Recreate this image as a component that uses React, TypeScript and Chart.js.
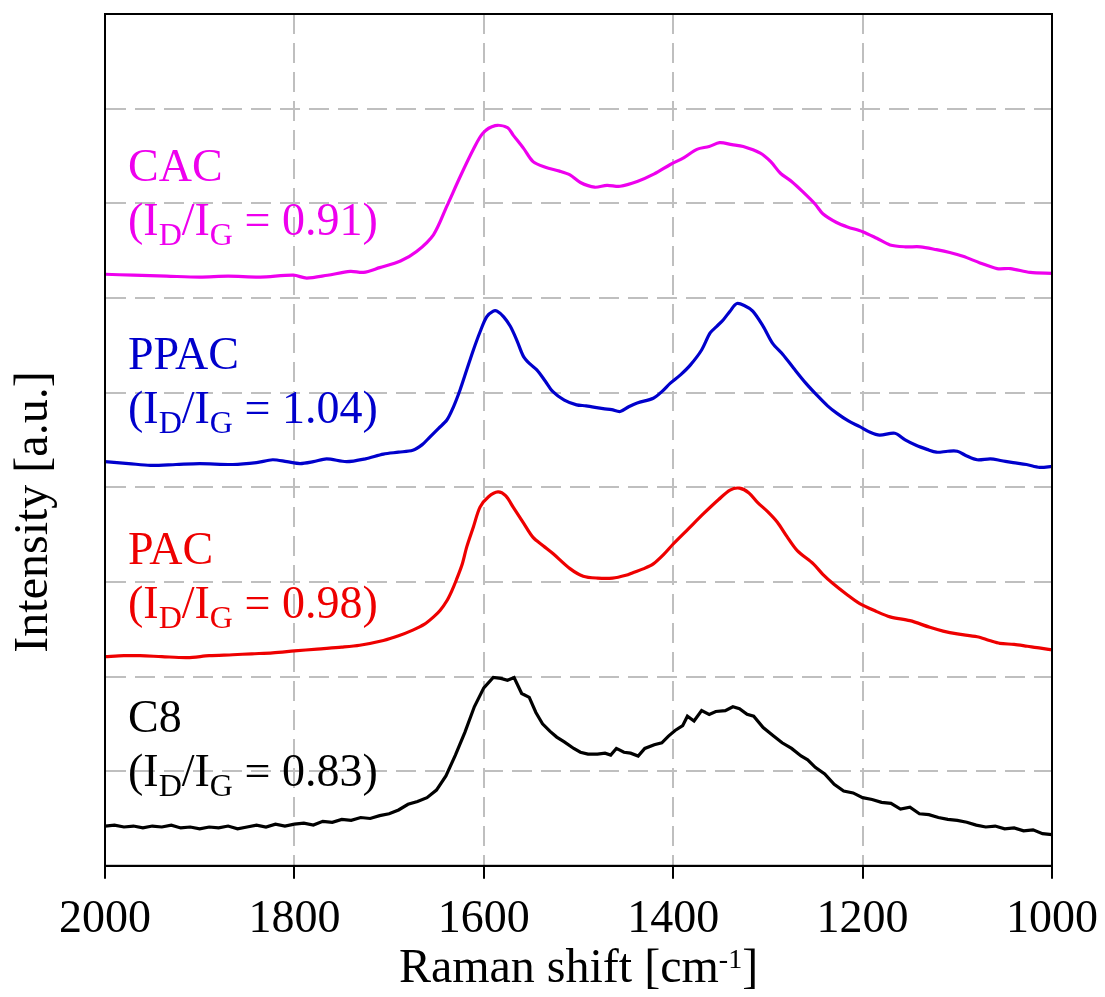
import React, { useEffect, useRef } from "react";
import { Chart, registerables } from "chart.js";

Chart.register(...registerables);

const FONT = "'Liberation Serif', 'Times New Roman', serif";

// Axis settings
const xTicks = [2000, 1800, 1600, 1400, 1200, 1000];
const xTitleMain = "Raman shift [cm";
const xTitleSup = "-1";
const xTitleEnd = "]";
const yTitle = "Intensity [a.u.]";

// Series metadata (bottom to top)
const seriesNames = ["C8", "PAC", "PPAC", "CAC"];
const ratioLabels = ["0.83", "0.98", "1.04", "0.91"];
const seriesColors = ["#000000", "#EE0000", "#0000CC", "#EE00EE"];

// CAC (magenta)
const cacX = [2000, 1970, 1935, 1900, 1870, 1836, 1801, 1787, 1765, 1741, 1727, 1710, 1688, 1671, 1653, 1639, 1625, 1611, 1601, 1588, 1575, 1569, 1558, 1548, 1535, 1520, 1509, 1498, 1483, 1470, 1456, 1438, 1420, 1403, 1389, 1375, 1362, 1351, 1338, 1326, 1308, 1297, 1287, 1275, 1263, 1250, 1242, 1228, 1216, 1200, 1185, 1171, 1155, 1139, 1122, 1108, 1094, 1076, 1058, 1044, 1023, 1000];
const cacY = [6.25, 6.24, 6.23, 6.22, 6.23, 6.22, 6.24, 6.21, 6.24, 6.28, 6.27, 6.32, 6.39, 6.49, 6.67, 6.97, 7.28, 7.57, 7.74, 7.82, 7.80, 7.72, 7.58, 7.44, 7.38, 7.34, 7.30, 7.22, 7.17, 7.19, 7.18, 7.23, 7.31, 7.41, 7.48, 7.57, 7.60, 7.64, 7.62, 7.60, 7.53, 7.44, 7.32, 7.23, 7.12, 6.99, 6.89, 6.80, 6.75, 6.70, 6.63, 6.56, 6.54, 6.54, 6.51, 6.48, 6.44, 6.37, 6.31, 6.31, 6.27, 6.26];

// PPAC (blue)
const ppacX = [2000, 1975, 1952, 1925, 1900, 1865, 1840, 1823, 1808, 1794, 1780, 1766, 1745, 1725, 1706, 1690, 1675, 1665, 1657, 1648, 1639, 1632, 1625, 1618, 1611, 1604, 1597, 1590, 1586, 1579, 1572, 1565, 1558, 1551, 1544, 1535, 1527, 1515, 1502, 1492, 1474, 1465, 1456, 1447, 1438, 1421, 1412, 1403, 1392, 1382, 1370, 1361, 1354, 1347, 1340, 1333, 1325, 1316, 1305, 1295, 1284, 1273, 1260, 1248, 1237, 1227, 1215, 1203, 1192, 1182, 1166, 1155, 1143, 1132, 1122, 1110, 1100, 1090, 1079, 1065, 1053, 1041, 1027, 1013, 1000];
const ppacY = [4.27, 4.25, 4.23, 4.24, 4.25, 4.24, 4.26, 4.29, 4.27, 4.25, 4.27, 4.30, 4.27, 4.30, 4.35, 4.37, 4.39, 4.45, 4.53, 4.62, 4.71, 4.85, 5.03, 5.24, 5.45, 5.64, 5.80, 5.86, 5.86, 5.80, 5.70, 5.55, 5.38, 5.30, 5.24, 5.12, 5.01, 4.92, 4.87, 4.86, 4.83, 4.82, 4.80, 4.85, 4.89, 4.94, 5.01, 5.10, 5.19, 5.29, 5.45, 5.63, 5.70, 5.77, 5.86, 5.94, 5.92, 5.86, 5.70, 5.52, 5.40, 5.26, 5.10, 4.97, 4.86, 4.78, 4.70, 4.64, 4.58, 4.55, 4.57, 4.50, 4.44, 4.40, 4.37, 4.38, 4.38, 4.33, 4.29, 4.30, 4.28, 4.26, 4.24, 4.21, 4.22];

// PAC (red)
const pacX = [2000, 1980, 1963, 1940, 1913, 1890, 1865, 1845, 1823, 1800, 1776, 1750, 1731, 1706, 1690, 1675, 1663, 1653, 1646, 1639, 1634, 1629, 1623, 1618, 1611, 1604, 1595, 1585, 1577, 1569, 1558, 1548, 1537, 1527, 1509, 1495, 1480, 1464, 1450, 1442, 1431, 1421, 1410, 1400, 1384, 1368, 1352, 1340, 1330, 1320, 1311, 1300, 1290, 1280, 1269, 1252, 1242, 1231, 1217, 1203, 1186, 1171, 1150, 1129, 1115, 1100, 1079, 1066, 1055, 1040, 1026, 1012, 1000];
const pacY = [2.21, 2.22, 2.22, 2.21, 2.20, 2.22, 2.23, 2.24, 2.25, 2.27, 2.29, 2.31, 2.33, 2.38, 2.43, 2.49, 2.55, 2.63, 2.70, 2.80, 2.90, 3.02, 3.18, 3.37, 3.58, 3.79, 3.90, 3.95, 3.91, 3.79, 3.62, 3.47, 3.38, 3.30, 3.14, 3.06, 3.04, 3.04, 3.07, 3.10, 3.14, 3.19, 3.29, 3.40, 3.56, 3.72, 3.87, 3.97, 3.99, 3.94, 3.84, 3.74, 3.63, 3.48, 3.33, 3.19, 3.08, 2.98, 2.87, 2.77, 2.69, 2.63, 2.59, 2.52, 2.48, 2.45, 2.42, 2.38, 2.35, 2.34, 2.32, 2.30, 2.28];

// C8 (black)
const c8X = [2000, 1990, 1980, 1970, 1960, 1950, 1940, 1930, 1920, 1910, 1900, 1890, 1880, 1870, 1860, 1850, 1840, 1830, 1820, 1810, 1800, 1790, 1780, 1770, 1760, 1750, 1740, 1730, 1720, 1710, 1700, 1690, 1680, 1670, 1660, 1650, 1640, 1630, 1620, 1610, 1600, 1590, 1582, 1575, 1568, 1560, 1552, 1545, 1538, 1530, 1523, 1515, 1505, 1498, 1490, 1480, 1472, 1466, 1460, 1452, 1445, 1437, 1430, 1420, 1412, 1405, 1398, 1390, 1385, 1378, 1370, 1362, 1355, 1345, 1337, 1330, 1322, 1315, 1305, 1295, 1285, 1275, 1265, 1258, 1250, 1240, 1230, 1220, 1210, 1200, 1190, 1180, 1170, 1160, 1150, 1140, 1130, 1120, 1110, 1100, 1090, 1080, 1070, 1060, 1050, 1040, 1030, 1020, 1010, 1000];
const c8Y = [0.42, 0.43, 0.41, 0.42, 0.40, 0.42, 0.41, 0.43, 0.40, 0.41, 0.39, 0.41, 0.40, 0.42, 0.39, 0.41, 0.43, 0.41, 0.44, 0.42, 0.44, 0.45, 0.43, 0.47, 0.46, 0.49, 0.48, 0.51, 0.50, 0.53, 0.55, 0.59, 0.65, 0.68, 0.72, 0.80, 0.95, 1.17, 1.41, 1.68, 1.88, 1.99, 1.98, 1.96, 1.99, 1.82, 1.78, 1.62, 1.50, 1.42, 1.36, 1.31, 1.24, 1.20, 1.18, 1.18, 1.19, 1.17, 1.24, 1.20, 1.19, 1.16, 1.24, 1.28, 1.30, 1.37, 1.43, 1.48, 1.58, 1.53, 1.64, 1.60, 1.63, 1.64, 1.68, 1.66, 1.60, 1.58, 1.46, 1.38, 1.30, 1.24, 1.16, 1.12, 1.04, 0.97, 0.86, 0.79, 0.77, 0.72, 0.70, 0.67, 0.66, 0.60, 0.62, 0.55, 0.54, 0.51, 0.49, 0.48, 0.46, 0.43, 0.41, 0.42, 0.39, 0.40, 0.37, 0.38, 0.34, 0.33];

// Label anchor (y value of first line baseline) for each series
const labelAnchors = [1.41, 3.19, 5.25, 7.24];

const seriesX = [c8X, pacX, ppacX, cacX];
const seriesY = [c8Y, pacY, ppacY, cacY];
const seriesTension = [0, 0.3, 0.3, 0.3];

function seg(ctx: CanvasRenderingContext2D, text: string, x: number, y: number, size: number) {
  ctx.font = `${size}px ${FONT}`;
  ctx.fillText(text, x, y);
  return x + ctx.measureText(text).width;
}

const overlayPlugin = {
  id: "overlay",
  afterDraw(chart: any) {
    const { ctx, chartArea: a, scales } = chart;
    ctx.save();
    ctx.setLineDash([]);
    ctx.strokeStyle = "#000";
    ctx.lineWidth = 2;
    ctx.strokeRect(a.left, a.top, a.right - a.left, a.bottom - a.top);

    ctx.textAlign = "left";
    ctx.textBaseline = "alphabetic";
    const main = 46;
    const sub = 32;
    for (let i = 0; i < seriesNames.length; i++) {
      ctx.fillStyle = seriesColors[i];
      const x0 = a.left + 23;
      const y1 = scales.y.getPixelForValue(labelAnchors[i]);
      const y2 = y1 + 54;
      seg(ctx, seriesNames[i], x0, y1, main);
      let x = seg(ctx, "(I", x0, y2, main);
      x = seg(ctx, "D", x, y2 + 10, sub);
      x = seg(ctx, "/I", x, y2, main);
      x = seg(ctx, "G", x, y2 + 10, sub);
      seg(ctx, " = " + ratioLabels[i] + ")", x, y2, main);
    }

    // x title
    ctx.fillStyle = "#000";
    ctx.font = `48px ${FONT}`;
    const w1 = ctx.measureText(xTitleMain).width;
    const w3 = ctx.measureText(xTitleEnd).width;
    ctx.font = `28px ${FONT}`;
    const w2 = ctx.measureText(xTitleSup).width;
    const cx = (a.left + a.right) / 2;
    let tx = cx - (w1 + w2 + w3) / 2;
    const ty = 982;
    tx = seg(ctx, xTitleMain, tx, ty, 48);
    tx = seg(ctx, xTitleSup, tx, ty - 14, 28);
    seg(ctx, xTitleEnd, tx, ty, 48);

    // y title
    ctx.translate(47, 512);
    ctx.rotate(-Math.PI / 2);
    ctx.textAlign = "center";
    ctx.font = `48px ${FONT}`;
    ctx.fillText(yTitle, 0, 0);
    ctx.restore();
  },
};

export default function App() {
  const ref = useRef<HTMLCanvasElement | null>(null);
  useEffect(() => {
    document.body.style.margin = "0";
    const canvas = ref.current;
    if (!canvas) return;
    const datasets = seriesNames.map((name, i) => ({
      label: name,
      data: seriesX[i].map((x, j) => ({ x, y: seriesY[i][j] })),
      borderColor: seriesColors[i],
      backgroundColor: seriesColors[i],
      borderWidth: 3.2,
      pointRadius: 0,
      tension: seriesTension[i],
      fill: false,
    }));
    const chart = new Chart(canvas, {
      type: "line",
      data: { datasets },
      options: {
        animation: false,
        responsive: false,
        devicePixelRatio: 1,
        layout: { padding: { left: 105, right: 53, top: 14, bottom: 35 } },
        plugins: { legend: { display: false }, tooltip: { enabled: false } },
        scales: {
          x: {
            type: "linear",
            reverse: true,
            min: 1000,
            max: 2000,
            afterBuildTicks: (scale: any) => {
              scale.ticks = xTicks.map((v) => ({ value: v }));
            },
            afterFit: (scale: any) => {
              scale.paddingLeft = 0;
              scale.paddingRight = 0;
            },
            ticks: {
              color: "#000",
              font: { family: FONT, size: 46 },
              padding: 14,
              maxRotation: 0,
              autoSkip: false,
              callback: (v: any) => String(v),
            },
            grid: {
              color: "#BFBFBF",
              lineWidth: 2,
              drawTicks: true,
              tickLength: 13,
              tickColor: "#000",
              tickWidth: 2,
              tickBorderDash: [],
            },
            border: { display: true, color: "#000", width: 2, dash: [20, 9] },
          },
          y: {
            type: "linear",
            min: 0,
            max: 9,
            ticks: { display: false, stepSize: 1 },
            grid: { color: "#BFBFBF", lineWidth: 2, drawTicks: false },
            border: { display: true, color: "#000", width: 2, dash: [20, 9] },
          },
        },
      },
      plugins: [overlayPlugin],
    });
    return () => chart.destroy();
  }, []);
  return (
    <div style={{ width: 1105, height: 997 }}>
      <canvas ref={ref} width={1105} height={997} style={{ display: "block" }} />
    </div>
  );
}
